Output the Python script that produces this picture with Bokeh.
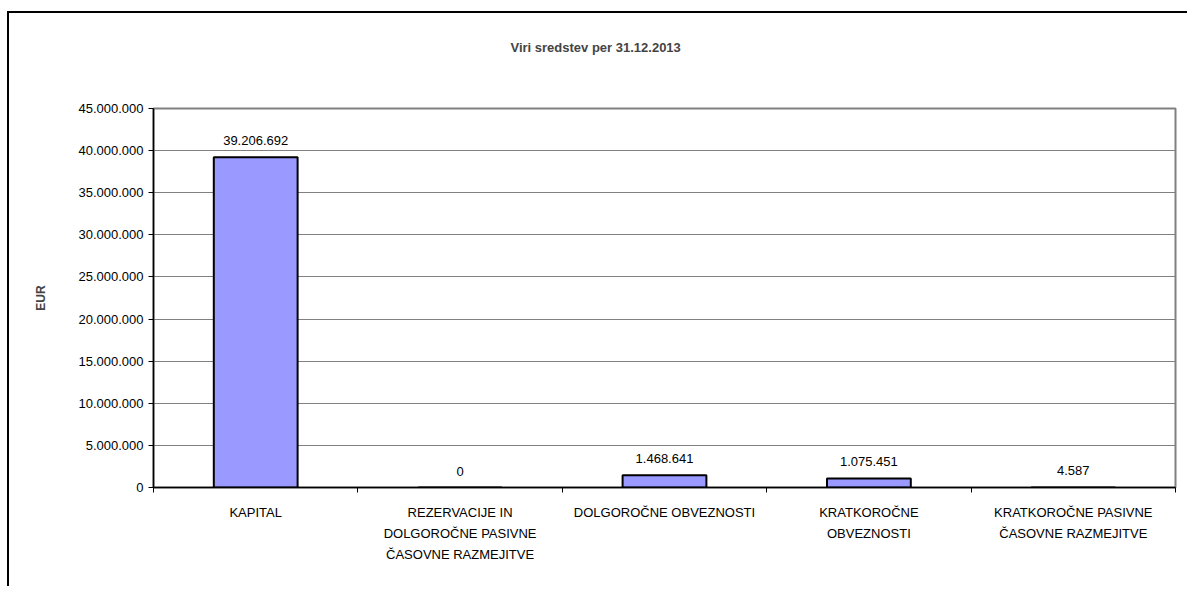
from bokeh.plotting import figure
from bokeh.models import FixedTicker, LinearAxis, Range1d, ColumnDataSource, LabelSet, Title
from bokeh.core.properties import value
from bokeh.embed import file_html
from bokeh.resources import INLINE

categories = [
    "KAPITAL",
    "REZERVACIJE IN\nDOLGOROČNE PASIVNE\nČASOVNE RAZMEJITVE",
    "DOLGOROČNE OBVEZNOSTI",
    "KRATKOROČNE\nOBVEZNOSTI",
    "KRATKOROČNE PASIVNE\nČASOVNE RAZMEJITVE",
]
values = [39206692, 0, 1468641, 1075451, 4587]
y_ticks = [0, 5000000, 10000000, 15000000, 20000000, 25000000,
           30000000, 35000000, 40000000, 45000000]
title_text = "Viri sredstev per 31.12.2013"
y_label = "EUR"


def fmt(v):
    return f"{int(v):,}".replace(",", ".")


FONT = "Liberation Sans"
n = len(categories)
xs = [i + 0.5 for i in range(n)]

W, H = 1180, 575
p = figure(width=W, height=H, x_range=Range1d(0, n), y_range=Range1d(0, y_ticks[-1]),
           output_backend="svg", toolbar_location=None, x_axis_location=None,
           min_border_left=144, min_border_right=14, min_border_top=95, min_border_bottom=101)
p.styles = {"border-left": "2px solid black", "border-top": "2px solid black",
            "margin-top": "11px", "margin-left": "7px"}
p.background_fill_color = "white"
p.border_fill_color = "white"
p.outline_line_color = "#808080"
p.outline_line_width = 2

# title (outermost) and an empty spacer between it and the frame
p.title.text = title_text
p.title.align = "left"
p.title.offset = 357
p.title.text_font = FONT
p.title.text_font_size = "13px"
p.title.text_font_style = "bold"
p.title.standoff = 10
spacer = Title(text=" ", text_font_size="13px", standoff=32)
p.add_layout(spacer, "above")

src = ColumnDataSource(dict(x=xs, top=values, label=[fmt(v) for v in values]))
p.vbar(x="x", top="top", width=0.41, source=src, fill_color="#9999FF",
       line_color="black", line_width=2)

labels = LabelSet(x="x", y="top", text="label", source=src, text_align="center",
                  text_baseline="bottom", y_offset=12, text_font=value(FONT),
                  text_font_size="13px", text_color="black")
p.add_layout(labels)

# y axis
ya = p.yaxis[0]
ya.ticker = FixedTicker(ticks=y_ticks)
ya.major_label_overrides = {t: fmt(t) for t in y_ticks}
ya.major_label_text_font = FONT
ya.major_label_text_font_size = "13px"
ya.major_label_text_color = "black"
ya.major_tick_in = 0
ya.major_tick_out = 5
ya.minor_tick_line_color = None
ya.axis_line_color = "black"
ya.axis_line_width = 1.5
ya.axis_label = y_label
ya.axis_label_text_font = FONT
ya.axis_label_text_font_size = "12px"
ya.axis_label_text_font_style = "bold"
ya.axis_label_standoff = 27

p.ygrid.ticker = FixedTicker(ticks=y_ticks)
p.ygrid.grid_line_color = "#808080"
p.ygrid.grid_line_width = 1
p.xgrid.grid_line_color = None

# x axis with ticks at category boundaries
xa = LinearAxis(ticker=FixedTicker(ticks=list(range(n + 1))))
xa.major_label_text_font_size = "0px"
xa.major_label_overrides = {i: "" for i in range(n + 1)}
xa.major_tick_in = 0
xa.major_tick_out = 5
xa.minor_tick_line_color = None
xa.axis_line_color = "black"
xa.axis_line_width = 1.5
p.add_layout(xa, "below")

# category labels
xl = LinearAxis(ticker=FixedTicker(ticks=xs))
xl.major_label_overrides = {x: c for x, c in zip(xs, categories)}
xl.major_label_text_font = FONT
xl.major_label_text_font_size = "13px"
xl.major_label_text_color = "black"
xl.major_label_text_line_height = 1.4
xl.major_label_standoff = 6
xl.axis_line_color = None
xl.major_tick_line_color = None
xl.minor_tick_line_color = None
p.add_layout(xl, "below")

open("out.html", "w").write(file_html(p, INLINE))
